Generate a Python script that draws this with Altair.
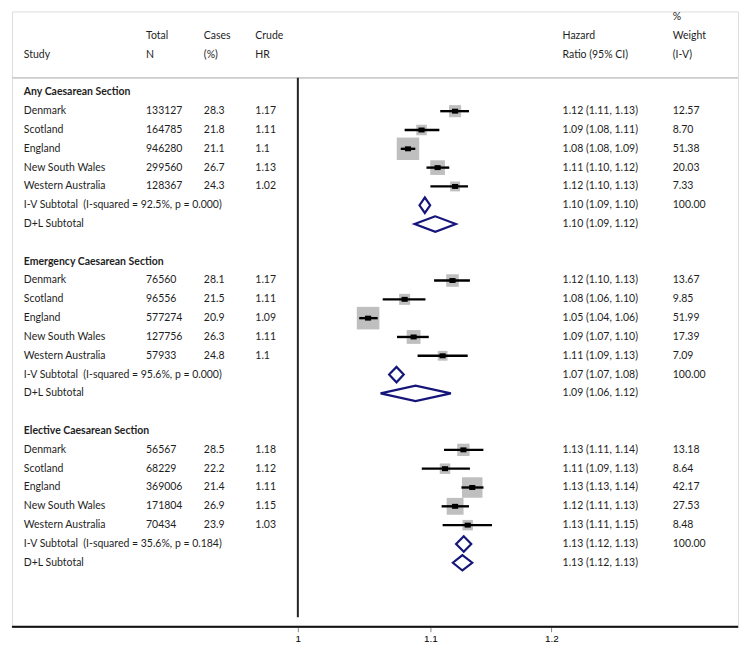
import altair as alt
import pandas as pd

# ---------------- data ----------------
groups = ["Any Caesarean Section", "Emergency Caesarean Section", "Elective Caesarean Section"]
countries = ["Denmark", "Scotland", "England", "New South Wales", "Western Australia"]

total_n = [
    [133127, 164785, 946280, 299560, 128367],
    [76560, 96556, 577274, 127756, 57933],
    [56567, 68229, 369006, 171804, 70434],
]
cases_pct = [
    ["28.3", "21.8", "21.1", "26.7", "24.3"],
    ["28.1", "21.5", "20.9", "26.3", "24.8"],
    ["28.5", "22.2", "21.4", "26.9", "23.9"],
]
crude_hr = [
    ["1.17", "1.11", "1.1", "1.13", "1.02"],
    ["1.17", "1.11", "1.09", "1.11", "1.1"],
    ["1.18", "1.12", "1.11", "1.15", "1.03"],
]
hr_label = [
    ["1.12 (1.11, 1.13)", "1.09 (1.08, 1.11)", "1.08 (1.08, 1.09)", "1.11 (1.10, 1.12)", "1.12 (1.10, 1.13)"],
    ["1.12 (1.10, 1.13)", "1.08 (1.06, 1.10)", "1.05 (1.04, 1.06)", "1.09 (1.07, 1.10)", "1.11 (1.09, 1.13)"],
    ["1.13 (1.11, 1.14)", "1.11 (1.09, 1.13)", "1.13 (1.13, 1.14)", "1.12 (1.11, 1.13)", "1.13 (1.11, 1.15)"],
]
weight_label = [
    ["12.57", "8.70", "51.38", "20.03", "7.33"],
    ["13.67", "9.85", "51.99", "17.39", "7.09"],
    ["13.18", "8.64", "42.17", "27.53", "8.48"],
]
weights = [
    [12.57, 8.70, 51.38, 20.03, 7.33],
    [13.67, 9.85, 51.99, 17.39, 7.09],
    [13.18, 8.64, 42.17, 27.53, 8.48],
]
# marker positions
hr_est = [
    [1.1197, 1.0930, 1.0824, 1.1057, 1.1197],
    [1.1176, 1.0798, 1.0518, 1.0868, 1.1097],
    [1.1264, 1.1116, 1.1336, 1.1197, 1.1299],
]
hr_lo = [
    [1.1078, 1.0798, 1.0768, 1.0969, 1.1000],
    [1.1029, 1.0629, 1.0451, 1.0739, 1.0899],
    [1.1108, 1.0932, 1.1248, 1.1089, 1.1097],
]
hr_hi = [
    [1.1309, 1.1071, 1.0881, 1.1150, 1.1301],
    [1.1317, 1.0961, 1.0591, 1.0987, 1.1299],
    [1.1427, 1.1317, 1.1428, 1.1309, 1.1498],
]

iv_label = [
    "I-V Subtotal\u00a0 (I-squared = 92.5%, p = 0.000)",
    "I-V Subtotal\u00a0 (I-squared = 95.6%, p = 0.000)",
    "I-V Subtotal\u00a0 (I-squared = 35.6%, p = 0.184)",
]
iv_hr_label = ["1.10 (1.09, 1.10)", "1.07 (1.07, 1.08)", "1.13 (1.12, 1.13)"]
iv_weight_label = ["100.00", "100.00", "100.00"]
iv_est = [1.0956, 1.0735, 1.1267]
iv_lo = [1.0914, 1.0678, 1.1205]
iv_hi = [1.0998, 1.0791, 1.1328]

dl_label = ["D+L Subtotal", "D+L Subtotal", "D+L Subtotal"]
dl_hr_label = ["1.10 (1.09, 1.12)", "1.09 (1.06, 1.12)", "1.13 (1.12, 1.13)"]
dl_est = [1.1039, 1.0883, 1.1256]
dl_lo = [1.0876, 1.0613, 1.1179]
dl_hi = [1.1203, 1.1163, 1.1336]

header_top = ["", "", "", "", "", "%"]
header_mid = ["", "Total", "Cases", "Crude", "Hazard", "Weight"]
header_bot = ["Study", "N", "(%)", "HR", "Ratio (95% CI)", "(I-V)"]

x_ticks = [1, 1.1, 1.2]
x_domain = [0.8142, 1.3723]
null_hr = 1.0

# ---------------- layout constants ----------------
W, H = 734, 622
FONT = "Lato"
FS = 10.6
TXT = "#1e1e1e"
NAVY = "#15157a"
col_x = [12, 135.5, 194, 246, 556.6, 668]
ROWS_PER_GROUP = 9
DIAMOND_HALF = 0.41   # rows
DOT_HALF = 1.0022     # multiplicative half width of the black centre mark
Y_DOMAIN = [-4.3, 28.4]
SEP_ROW = -0.77
VLINE_END = 27.9

# ---------------- build tables ----------------
text_rows = []
study_rows = []
diamond_pts = []
for g in range(3):
    base = ROWS_PER_GROUP * g
    text_rows.append(dict(row=base, c0="", cb=groups[g], c1="", c2="", c3="", c4="", c5=""))
    for i in range(5):
        r = base + 1 + i
        text_rows.append(dict(row=r, c0=countries[i], cb="", c1=str(total_n[g][i]), c2=cases_pct[g][i],
                              c3=crude_hr[g][i], c4=hr_label[g][i], c5=weight_label[g][i]))
        e = hr_est[g][i]
        study_rows.append(dict(row=r, est=e, lo=hr_lo[g][i], hi=hr_hi[g][i], w=weights[g][i],
                               da=e / DOT_HALF, db=e * DOT_HALF))
    r_iv = base + 6
    r_dl = base + 7
    text_rows.append(dict(row=r_iv, c0=iv_label[g], cb="", c1="", c2="", c3="", c4=iv_hr_label[g],
                          c5=iv_weight_label[g]))
    text_rows.append(dict(row=r_dl, c0=dl_label[g], cb="", c1="", c2="", c3="", c4=dl_hr_label[g], c5=""))
    for kind, r, e, lo, hi in [("iv", r_iv, iv_est[g], iv_lo[g], iv_hi[g]),
                               ("dl", r_dl, dl_est[g], dl_lo[g], dl_hi[g])]:
        pts = [(lo, r), (e, r - DIAMOND_HALF), (hi, r), (e, r + DIAMOND_HALF), (lo, r), (e, r - DIAMOND_HALF)]
        for k, (px, py) in enumerate(pts):
            diamond_pts.append(dict(id=f"{kind}{g}", ord=k, hr=px, row=py))

for lvl, vals in zip([-4, -3, -2], [header_top, header_mid, header_bot]):
    text_rows.append(dict(row=lvl, c0=vals[0], cb="", c1=vals[1], c2=vals[2], c3=vals[3], c4=vals[4], c5=vals[5]))

df_text = pd.DataFrame(text_rows)
df_study = pd.DataFrame(study_rows)
df_dia = pd.DataFrame(diamond_pts)
df_v = pd.DataFrame(dict(id=["v", "v"], ord=[0, 1], hr=[null_hr, null_hr], row=[SEP_ROW, VLINE_END]))
df_h = pd.DataFrame(dict(id=["h", "h"], ord=[0, 1], hr=x_domain, row=[SEP_ROW, SEP_ROW]))
df_ax = pd.DataFrame(dict(id=["a", "a"], ord=[0, 1], hr=x_domain, row=[Y_DOMAIN[1], Y_DOMAIN[1]]))

xscale = alt.Scale(type="log", domain=x_domain, nice=False, zero=False)
yscale = alt.Scale(domain=Y_DOMAIN, reverse=True, nice=False, zero=False)

X = alt.X("est:Q", scale=xscale, axis=alt.Axis(values=x_ticks, format="~g", title=None, grid=False))
Y = alt.Y("row:Q", scale=yscale, axis=None)

squares = alt.Chart(df_study).mark_point(shape="square", filled=True, color="#bfbfbf", opacity=1).encode(
    x=X, y=Y,
    size=alt.Size("w:Q", scale=alt.Scale(domain=[0, 100], range=[31, 973]), legend=None),
)
ci = alt.Chart(df_study).mark_rule(color="#000", strokeWidth=2.4).encode(
    x=alt.X("lo:Q", scale=xscale), x2="hi:Q", y=Y)
dots = alt.Chart(df_study).mark_rule(color="#000", strokeWidth=5).encode(
    x=alt.X("da:Q", scale=xscale), x2="db:Q", y=Y)


def seg(df, color, width):
    return alt.Chart(df).mark_line(color=color, strokeWidth=width).encode(
        x=alt.X("hr:Q", scale=xscale), y=alt.Y("row:Q", scale=yscale, axis=None),
        detail="id:N", order="ord:Q")


diamonds = seg(df_dia, NAVY, 2.2)
vline = seg(df_v, "#222222", 2)
hline = seg(df_h, "#cccccc", 2)
axline = seg(df_ax, "#111111", 2)

text_layers = []
for ci_, cx in enumerate(col_x):
    t = alt.Chart(df_text).mark_text(align="left", baseline="middle", font=FONT, fontSize=FS, color=TXT).encode(
        x=alt.value(cx), y=alt.Y("row:Q", scale=yscale, axis=None), text=f"c{ci_}:N",
    )
    text_layers.append(t)
bold_layer = alt.Chart(df_text).mark_text(align="left", baseline="middle", font=FONT, fontSize=FS,
                                          color=TXT, fontWeight="bold").encode(
    x=alt.value(col_x[0]), y=alt.Y("row:Q", scale=yscale, axis=None), text="cb:N")

chart = alt.layer(squares, hline, vline, axline, ci, dots, diamonds, *text_layers, bold_layer).properties(
    width=W, height=H, padding=0
)

chart.save("out.html", embed_options={"renderer": "svg", "actions": False})
